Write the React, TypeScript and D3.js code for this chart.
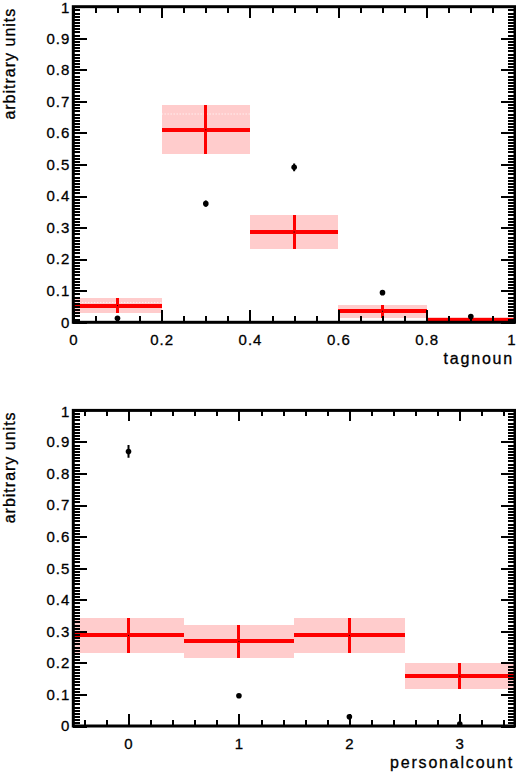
import React, { useEffect, useRef } from "react";
import * as d3 from "d3";

// top panel: tagnoun
const tagnounEdges = [0, 0.2, 0.4, 0.6, 0.8, 1];
const tagnounFit = [0.053, 0.61, 0.286, 0.035, 0.006];
const tagnounFitErr = [0.025, 0.078, 0.053, 0.02, 0.01];
const tagnounDotted: (number | null)[] = [0.063, 0.66, null, null, null];
const tagnounX = [0.1, 0.3, 0.5, 0.7, 0.9];
const tagnounData = [0.013, 0.376, 0.491, 0.094, 0.018];
const tagnounDataErr = [0.004, 0.01, 0.012, 0.005, 0.004];
const tagnounTicks = [0, 0.2, 0.4, 0.6, 0.8, 1];

// bottom panel: personalcount
const countEdges = [-0.5, 0.5, 1.5, 2.5, 3.5];
const countFit = [0.287, 0.268, 0.287, 0.158];
const countFitErr = [0.055, 0.053, 0.055, 0.041];
const countDotted: (number | null)[] = [null, null, null, null];
const countX = [0, 1, 2, 3];
const countData = [0.87, 0.096, 0.029, 0.006];
const countDataErr = [0.02, 0.004, 0.004, 0.003];
const countTicks = [0, 1, 2, 3];

const LEFT = 73.3;
const RIGHT = 515;
const PH = 315.6;
const FONT = "'Liberation Sans', Arial, sans-serif";

interface PanelProps {
  top: number;
  xDomain: [number, number];
  xTicks: number[];
  xMinorStep: number;
  xLabel: string;
  edges: number[];
  fit: number[];
  fitErr: number[];
  dotted: (number | null)[];
  px: number[];
  py: number[];
  pyErr: number[];
  id: string;
}

const Panel: React.FC<PanelProps> = (p) => {
  const gRef = useRef<SVGGElement>(null);

  useEffect(() => {
    if (!gRef.current) return;
    const g = d3.select(gRef.current);
    g.selectAll("*").remove();

    const x = d3.scaleLinear().domain(p.xDomain).range([LEFT, RIGHT]);
    const y = d3.scaleLinear().domain([0, 1]).range([p.top + PH, p.top]);

    g.append("clipPath")
      .attr("id", p.id)
      .append("rect")
      .attr("x", LEFT)
      .attr("y", p.top)
      .attr("width", RIGHT - LEFT)
      .attr("height", PH);

    const plot = g.append("g").attr("clip-path", `url(#${p.id})`);

    const bins = p.fit.map((v, i) => ({
      lo: p.edges[i],
      hi: p.edges[i + 1],
      mid: (p.edges[i] + p.edges[i + 1]) / 2,
      v,
      e: p.fitErr[i],
      d: p.dotted[i],
    }));

    plot
      .selectAll("rect.box")
      .data(bins)
      .join("rect")
      .attr("class", "box")
      .attr("x", (d) => x(d.lo))
      .attr("width", (d) => x(d.hi) - x(d.lo))
      .attr("y", (d) => y(d.v + d.e))
      .attr("height", (d) => y(d.v - d.e) - y(d.v + d.e))
      .attr("fill", "#ffcccc")
      .attr("shape-rendering", "crispEdges");

    plot
      .selectAll("line.dot")
      .data(bins.filter((d) => d.d !== null))
      .join("line")
      .attr("class", "dot")
      .attr("x1", (d) => x(d.lo))
      .attr("x2", (d) => x(d.hi))
      .attr("y1", (d) => y(d.d as number))
      .attr("y2", (d) => y(d.d as number))
      .attr("stroke", "#fff")
      .attr("stroke-width", 1)
      .attr("stroke-dasharray", "1,2");

    plot
      .selectAll("line.hbar")
      .data(bins)
      .join("line")
      .attr("class", "hbar")
      .attr("x1", (d) => x(d.lo))
      .attr("x2", (d) => x(d.hi))
      .attr("y1", (d) => y(d.v))
      .attr("y2", (d) => y(d.v))
      .attr("stroke", "#ff0000")
      .attr("stroke-width", 4)
      .attr("shape-rendering", "crispEdges");

    plot
      .selectAll("line.vbar")
      .data(bins)
      .join("line")
      .attr("class", "vbar")
      .attr("x1", (d) => x(d.mid))
      .attr("x2", (d) => x(d.mid))
      .attr("y1", (d) => y(d.v - d.e))
      .attr("y2", (d) => y(d.v + d.e))
      .attr("stroke", "#ff0000")
      .attr("stroke-width", 3)
      .attr("shape-rendering", "crispEdges");

    plot
      .selectAll("rect.cdot")
      .data(bins)
      .join("rect")
      .attr("class", "cdot")
      .attr("x", (d) => x(d.mid) - 0.5)
      .attr("y", (d) => y(d.v) - 0.5)
      .attr("width", 1)
      .attr("height", 1)
      .attr("fill", "#000");

    const pts = p.px.map((xv, i) => ({ x: xv, y: p.py[i], e: p.pyErr[i] }));

    plot
      .selectAll("line.err")
      .data(pts)
      .join("line")
      .attr("class", "err")
      .attr("x1", (d) => x(d.x))
      .attr("x2", (d) => x(d.x))
      .attr("y1", (d) => y(d.y - d.e))
      .attr("y2", (d) => y(d.y + d.e))
      .attr("stroke", "#000")
      .attr("stroke-width", 2);

    plot
      .selectAll("circle.pt")
      .data(pts)
      .join("circle")
      .attr("class", "pt")
      .attr("cx", (d) => x(d.x))
      .attr("cy", (d) => y(d.y))
      .attr("r", 2.8)
      .attr("fill", "#000");

    const bottom = p.top + PH;
    const fmt = d3.format("~g");
    const yMajor = y.ticks(10);
    const yMinor = d3
      .range(0, 101)
      .filter((i) => i % 10 !== 0)
      .map((i) => i / 100);
    const xMinor = d3
      .range(
        Math.ceil(p.xDomain[0] / p.xMinorStep - 1e-9),
        Math.floor(p.xDomain[1] / p.xMinorStep + 1e-9) + 1
      )
      .map((i) => i * p.xMinorStep)
      .filter((v) => !p.xTicks.some((t) => Math.abs(t - v) < 1e-9));

    const style = (sel: d3.Selection<SVGGElement, unknown, null, undefined>) => {
      sel.select(".domain").remove();
      sel
        .selectAll("line")
        .attr("stroke", "#000")
        .attr("stroke-width", 2)
        .attr("shape-rendering", "crispEdges");
      sel
        .selectAll("text")
        .attr("fill", "#000")
        .attr("stroke", "#000")
        .attr("stroke-width", 0.3)
        .attr("font-family", FONT)
        .attr("font-size", 15)
        .attr("letter-spacing", 1);
      sel.attr("font-family", null).attr("font-size", null);
    };

    // bottom axis
    const xAx = g
      .append("g")
      .attr("transform", `translate(0,${bottom})`)
      .call(
        d3
          .axisBottom(x)
          .tickValues(p.xTicks)
          .tickSize(-12)
          .tickSizeOuter(0)
          .tickPadding(12)
          .tickFormat((d) => fmt(d as number))
      )
      .call(style);
    // keep the last label inside the page
    xAx
      .selectAll<SVGTextElement, number>("text")
      .filter((d) => x(d) > RIGHT - 3)
      .attr("text-anchor", "end")
      .attr("dx", 0)
      .attr("letter-spacing", 0);
    g.append("g")
      .attr("transform", `translate(0,${bottom})`)
      .call(
        d3.axisBottom(x).tickValues(xMinor).tickSize(-6).tickSizeOuter(0).tickFormat(() => "")
      )
      .call(style);

    // top axis
    g.append("g")
      .attr("transform", `translate(0,${p.top})`)
      .call(
        d3.axisTop(x).tickValues(p.xTicks).tickSize(-11).tickSizeOuter(0).tickFormat(() => "")
      )
      .call(style);
    g.append("g")
      .attr("transform", `translate(0,${p.top})`)
      .call(
        d3.axisTop(x).tickValues(xMinor).tickSize(-6).tickSizeOuter(0).tickFormat(() => "")
      )
      .call(style);

    // left axis
    const yAx = g
      .append("g")
      .attr("transform", `translate(${LEFT},0)`)
      .call(
        d3
          .axisLeft(y)
          .tickValues(yMajor)
          .tickSize(-14)
          .tickSizeOuter(0)
          .tickPadding(3)
          .tickFormat((d) => fmt(d as number))
      )
      .call(style);
    yAx
      .selectAll<SVGTextElement, number>("text")
      .filter((d) => d === 1)
      .attr("y", 1);
    g.append("g")
      .attr("transform", `translate(${LEFT},0)`)
      .call(
        d3.axisLeft(y).tickValues(yMinor).tickSize(-7).tickSizeOuter(0).tickFormat(() => "")
      )
      .call(style);

    // right axis
    g.append("g")
      .attr("transform", `translate(${RIGHT},0)`)
      .call(
        d3.axisRight(y).tickValues(yMajor).tickSize(-14).tickSizeOuter(0).tickFormat(() => "")
      )
      .call(style);
    g.append("g")
      .attr("transform", `translate(${RIGHT},0)`)
      .call(
        d3.axisRight(y).tickValues(yMinor).tickSize(-7).tickSizeOuter(0).tickFormat(() => "")
      )
      .call(style);

    // frame
    g.append("rect")
      .attr("x", LEFT)
      .attr("y", p.top)
      .attr("width", RIGHT - LEFT)
      .attr("height", PH)
      .attr("fill", "none")
      .attr("stroke", "#000")
      .attr("stroke-width", 3);

    // titles
    g.append("text")
      .attr("x", RIGHT - 1)
      .attr("y", bottom + 42)
      .attr("text-anchor", "end")
      .attr("font-family", FONT)
      .attr("font-size", 16)
      .attr("letter-spacing", 1.8)
      .attr("stroke", "#000")
      .attr("stroke-width", 0.3)
      .text(p.xLabel);

    g.append("text")
      .attr("transform", `translate(15,${p.top + 1}) rotate(-90)`)
      .attr("text-anchor", "end")
      .attr("font-family", FONT)
      .attr("font-size", 16)
      .attr("letter-spacing", 1)
      .attr("stroke", "#000")
      .attr("stroke-width", 0.3)
      .text("arbitrary units");
  }, [p]);

  return <g ref={gRef} />;
};

const App: React.FC = () => (
  <svg
    width={516}
    height={774}
    style={{ position: "absolute", left: 0, top: 0, background: "#fff" }}
  >
    <Panel
      id="clipTop"
      top={6.7}
      xDomain={[0, 1]}
      xTicks={tagnounTicks}
      xMinorStep={0.05}
      xLabel="tagnoun"
      edges={tagnounEdges}
      fit={tagnounFit}
      fitErr={tagnounFitErr}
      dotted={tagnounDotted}
      px={tagnounX}
      py={tagnounData}
      pyErr={tagnounDataErr}
    />
    <Panel
      id="clipBottom"
      top={410.4}
      xDomain={[-0.5, 3.5]}
      xTicks={countTicks}
      xMinorStep={0.2}
      xLabel="personalcount"
      edges={countEdges}
      fit={countFit}
      fitErr={countFitErr}
      dotted={countDotted}
      px={countX}
      py={countData}
      pyErr={countDataErr}
    />
  </svg>
);

export default App;
